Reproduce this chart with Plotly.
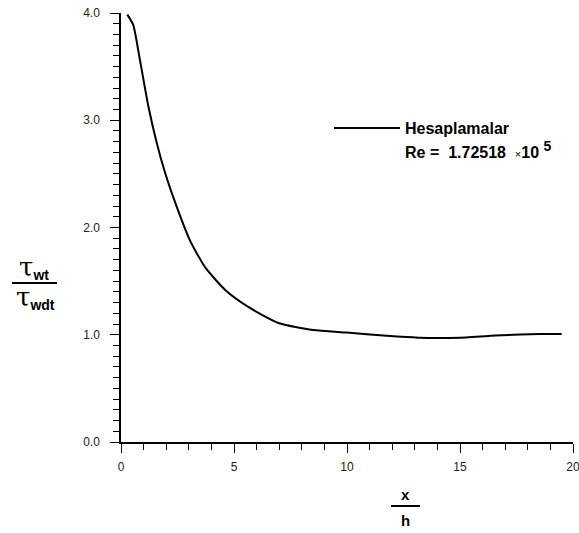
import plotly.graph_objects as go

# Data
x_vals = [0.28, 0.54, 0.84, 1.21, 1.58, 1.95, 2.42, 3.05, 3.72, 4.6, 5.63, 6.96,
          8.5, 9.99, 11.76, 13.16, 15.0, 16.84, 18.54, 19.5]
y_vals = [3.985, 3.89, 3.56, 3.13, 2.79, 2.51, 2.22, 1.88, 1.63, 1.42, 1.26, 1.11,
          1.044, 1.02, 0.99, 0.973, 0.973, 0.995, 1.007, 1.007]
series_name = "Hesaplamalar"
x_ticks = [0, 5, 10, 15, 20]
y_ticks = [0.0, 1.0, 2.0, 3.0, 4.0]
y_tick_text = ["0.0", "1.0", "2.0", "3.0", "4.0"]

W, H = 579, 533
ML, MR, MT, MB = 121, 6, 13, 91
PW, PH = W - ML - MR, H - MT - MB


def px_x(px):
    return (px - ML) / PW


def px_y(py):
    return (H - MB - py) / PH


font_family = "Liberation Sans, Arial, sans-serif"

fig = go.Figure()
fig.add_trace(go.Scatter(x=x_vals, y=y_vals, mode="lines", name="<b>" + series_name + "</b>",
                         line=dict(color="black", width=2, shape="spline", smoothing=0.6)))

axis_common = dict(showgrid=False, zeroline=False, showline=True, linecolor="black",
                   linewidth=1.5, ticks="outside", tickcolor="black", tickwidth=1.2,
                   ticklen=9, ticklabeloverflow="allow",
                   tickfont=dict(family=font_family, size=12, color="#222"))

fig.update_xaxes(range=[0, 20], tickvals=x_ticks, ticktext=[str(v) for v in x_ticks],
                 minor=dict(dtick=1, ticks="outside", ticklen=6, tickcolor="black", tickwidth=1.2),
                 ticklabelstandoff=4, **axis_common)
fig.update_yaxes(range=[0, 4], tickvals=y_ticks, ticktext=y_tick_text,
                 minor=dict(dtick=0.1, ticks="outside", ticklen=6, tickcolor="black", tickwidth=1.2),
                 ticklabelstandoff=8, **axis_common)

annotations = []
shapes = []

tau = "<span style='font-family:DejaVu Serif; font-size:26px'>τ</span>"
# y-axis title as a fraction
annotations.append(dict(xref="paper", yref="paper", x=px_x(34), y=px_y(267),
                        text=tau + "<sub><b>wt</b></sub>",
                        showarrow=False, font=dict(family=font_family, size=20, color="black"),
                        xanchor="center", yanchor="middle"))
annotations.append(dict(xref="paper", yref="paper", x=px_x(35), y=px_y(297),
                        text=tau + "<sub><b>wdt</b></sub>",
                        showarrow=False, font=dict(family=font_family, size=20, color="black"),
                        xanchor="center", yanchor="middle"))
shapes.append(dict(type="line", xref="paper", yref="paper", x0=px_x(12), x1=px_x(57),
                   y0=px_y(283), y1=px_y(283), line=dict(color="black", width=2)))

# x-axis title as a fraction
annotations.append(dict(xref="paper", yref="paper", x=px_x(405), y=px_y(495),
                        text="<b>x</b>", showarrow=False,
                        font=dict(family=font_family, size=15, color="black"),
                        xanchor="center", yanchor="middle"))
annotations.append(dict(xref="paper", yref="paper", x=px_x(405), y=px_y(520),
                        text="<b>h</b>", showarrow=False,
                        font=dict(family=font_family, size=15, color="black"),
                        xanchor="center", yanchor="middle"))
shapes.append(dict(type="line", xref="paper", yref="paper", x0=px_x(391), x1=px_x(420),
                   y0=px_y(506), y1=px_y(506), line=dict(color="black", width=2)))

# Reynolds number note
annotations.append(dict(xref="paper", yref="paper", x=px_x(403), y=px_y(150),
                        text="<b>Re =  1.72518</b>  <span style='font-size:11px'>×</span><b>10</b> "
                             "<sup><b><span style='font-size:14px'>5</span></b></sup>",
                        showarrow=False, font=dict(family=font_family, size=16, color="black"),
                        xanchor="left", yanchor="middle"))

fig.update_layout(
    width=W, height=H,
    margin=dict(l=ML, r=MR, t=MT, b=MB, autoexpand=False),
    paper_bgcolor="white", plot_bgcolor="white",
    showlegend=True,
    legend=dict(x=px_x(329), y=px_y(111), xanchor="left", yanchor="top",
                bgcolor="rgba(0,0,0,0)", borderwidth=0, itemwidth=66,
                font=dict(family=font_family, size=16, color="black")),
    annotations=annotations, shapes=shapes,
)

fig.write_html("out.html", config={"displayModeBar": False},
               post_script="document.body.style.margin='0';document.body.style.padding='0';")
